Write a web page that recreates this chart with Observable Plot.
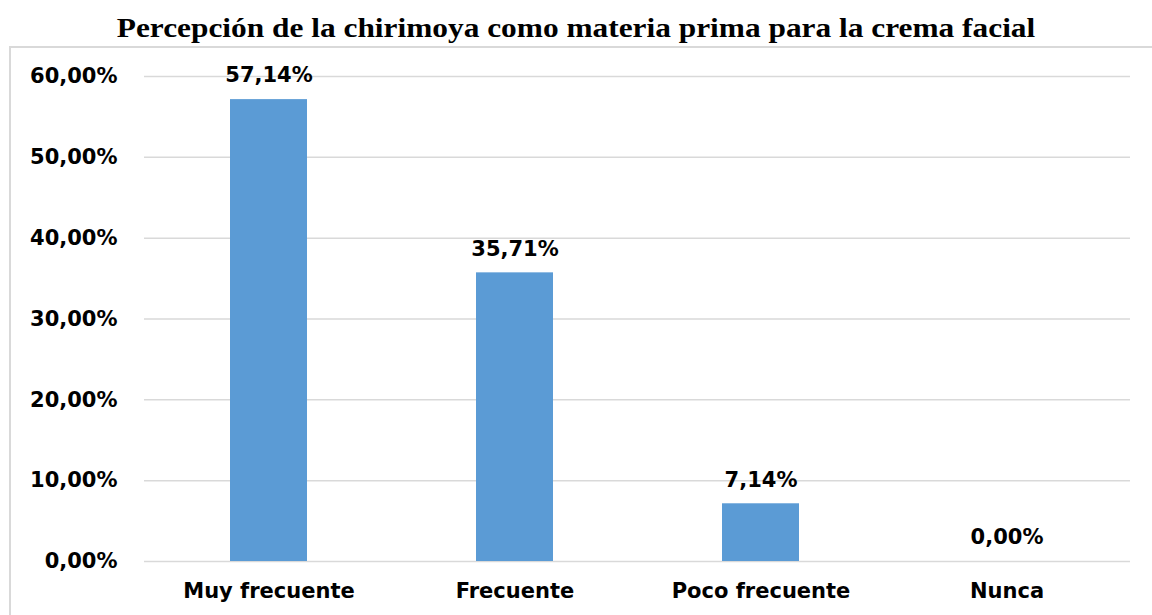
<!DOCTYPE html>
<html>
<head>
<meta charset="utf-8">
<script src="https://cdn.jsdelivr.net/npm/d3@7"></script>
<script src="https://cdn.jsdelivr.net/npm/@observablehq/plot@0.6"></script>
<style>
  html, body { margin: 0; padding: 0; background: #fff; }
  #wrap { position: relative; width: 1152px; height: 615px; overflow: hidden; }
  #title { position: absolute; left: 0; top: 11px; width: 1152px; text-align: center;
           font-family: "Liberation Serif", "Times New Roman", serif; font-weight: bold;
           font-size: 28px; line-height: 34px; color: #000; transform: scaleX(1.12); transform-origin: 576px 0; }
  #border { position: absolute; left: 9px; top: 46px; width: 1200px; height: 700px;
            border: 2px solid #d9d9d9; box-sizing: border-box; }
  #chart { position: absolute; left: 0; top: 0; }
</style>
</head>
<body>
<div id="wrap">
  <div id="border"></div>
  <div id="title">Percepción de la chirimoya como materia prima para la crema facial</div>
  <div id="chart"></div>
</div>
<script>
const categories = ["Muy frecuente", "Frecuente", "Poco frecuente", "Nunca"];
const values = [0.5714, 0.3571, 0.0714, 0.0];
const yTicks = [0, 0.1, 0.2, 0.3, 0.4, 0.5, 0.6];

const locale = d3.formatLocale({decimal: ",", thousands: ".", grouping: [3], currency: ["", "€"]});
const pct = locale.format(".2%");

const data = categories.map((c, i) => ({category: c, value: values[i]}));

const chart = Plot.plot({
  width: 1152,
  height: 615,
  marginTop: 76,
  marginBottom: 54,
  marginLeft: 144,
  marginRight: 22,
  style: {fontFamily: "DejaVu Sans", fontWeight: "bold", fontSize: "21px", color: "#000", background: "transparent", overflow: "visible"},
  x: {domain: categories, paddingInner: 0.688, paddingOuter: 0.344, label: null, tickSize: 0},
  y: {domain: [0, 0.6], ticks: yTicks, tickFormat: pct, label: null, tickSize: 0},
  marks: [
    Plot.gridY(yTicks, {stroke: "#d9d9d9", strokeOpacity: 1, strokeWidth: 1.5}),
    Plot.barY(data, {x: "category", y: "value", fill: "#5b9bd5"}),
    Plot.text(data, {x: "category", y: "value", text: d => pct(d.value), dy: -24, lineAnchor: "middle", fill: "#000", fontSize: 21, fontWeight: "bold"}),
    Plot.axisX({tickSize: 0, tickPadding: 22, fontSize: 21, fontWeight: "bold", label: null}),
    Plot.axisY({ticks: yTicks, tickFormat: pct, tickSize: 0, tickPadding: 27, fontSize: 21, fontWeight: "bold", label: null})
  ]
});
document.getElementById("chart").appendChild(chart);
</script>
</body>
</html>
